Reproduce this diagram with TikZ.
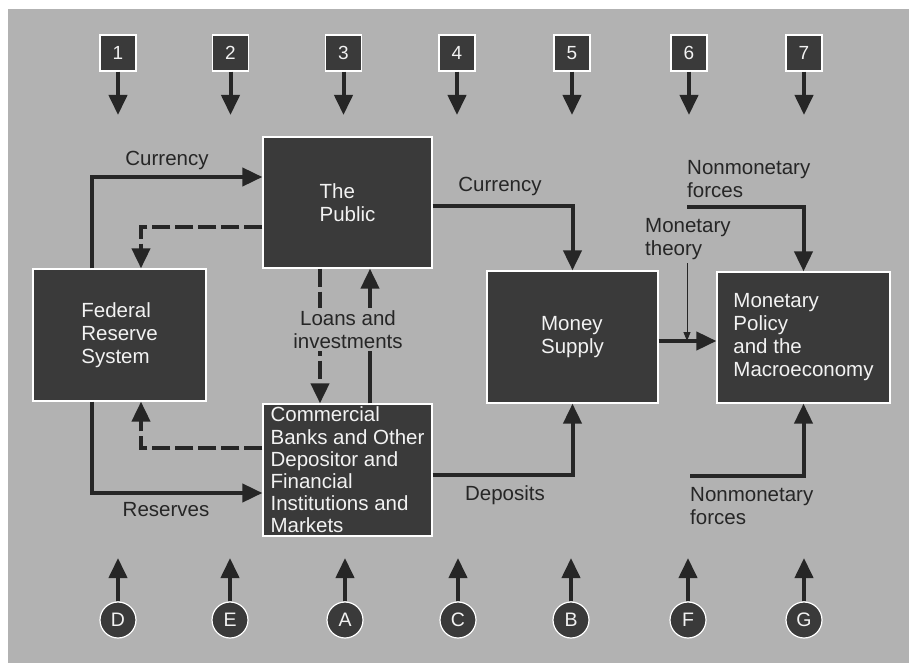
\documentclass[tikz,border=0pt]{standalone}
\usepackage{fontspec}
\setmainfont{Liberation Sans}
\usetikzlibrary{arrows.meta}
\definecolor{bg}{RGB}{178,178,178}
\definecolor{boxc}{RGB}{58,58,58}
\definecolor{ink}{RGB}{38,38,38}
\definecolor{wtxt}{RGB}{242,242,242}
\begin{document}
\begin{tikzpicture}[x=1pt,y=-1pt,
 font=\fontsize{20.5}{23}\selectfont,
 bigbox/.style={draw=white, line width=1.2pt, fill=boxc, text=wtxt, align=left, inner sep=0pt},
 numbox/.style={draw=white, line width=1.2pt, fill=boxc, text=wtxt, minimum width=36pt, minimum height=36pt, inner sep=0pt, font=\fontsize{19}{20}\selectfont},
 letcirc/.style={circle, draw=white, line width=1.2pt, fill=boxc, text=wtxt, minimum size=36pt, inner sep=0pt, font=\fontsize{19.5}{20}\selectfont},
 conn/.style={draw=ink, line width=4pt, -{Triangle[width=18pt,length=20pt]}},
 dconn/.style={conn, dash pattern=on 18pt off 5pt},
 thinconn/.style={draw=ink, line width=1pt, -{Triangle[width=7pt,length=9pt]}},
 lbl/.style={text=ink, align=left, inner sep=0pt},
 ]
\useasboundingbox (0,0) rectangle (909,663);
\fill[white] (0,0) rectangle (909,663);
\fill[bg] (8,9) rectangle (909,663);

% main boxes
\node[bigbox, minimum width=169pt, minimum height=131pt] (pub) at (347.5,202.5) {The\\Public};
\node[bigbox, minimum width=173pt, minimum height=132pt] (fed) at (119.5,335) {Federal\\Reserve\\System};
\node[bigbox, minimum width=169pt, minimum height=132pt, font=\fontsize{20.5}{22.2}\selectfont] (cb) at (347.5,470) {Commercial\\Banks and Other\\Depositor and\\Financial\\Institutions and\\Markets};
\node[bigbox, minimum width=171pt, minimum height=132pt] (ms) at (572.5,337) {Money\\Supply};
\node[bigbox, minimum width=173pt, minimum height=131pt] (mp) at (803.5,337.5) {Monetary\\Policy\\and the\\Macroeconomy};

% helper coordinates
\coordinate (c1) at (92,177);
\coordinate (c2) at (141,227);
\coordinate (c3) at (92,493);
\coordinate (c4) at (141,448);
\coordinate (c5) at (320,0);
\coordinate (c6) at (370,0);
\coordinate (c7) at (572,206);
\coordinate (c8) at (0,475);
\coordinate (c9) at (0,341);
\coordinate (mt) at (687,263);
\coordinate (nt) at (687,207);
\coordinate (nb) at (690,476);

% connectors
\draw[conn] (fed.north -| c1) |- (pub.west |- c1);
\draw[dconn] (pub.west |- c2) -| (fed.north -| c2);
\draw[conn] (fed.south -| c3) |- (cb.west |- c3);
\draw[dconn] (cb.west |- c4) -| (fed.south -| c4);
\draw[dconn] (pub.south -| c5) -- (cb.north -| c5);
\draw[conn] (cb.north -| c6) -- (pub.south -| c6);
\draw[conn] (pub.east |- c7) -| (ms.north);
\draw[conn] (cb.east |- c8) -| (ms.south);
\draw[conn] (ms.east |- c9) -- (mp.west |- c9);
\draw[thinconn] (mt) -- (mt |- c9);
\draw[conn] (nt) -| (mp.north);
\draw[conn] (nb) -| (mp.south);

% labels
\node[lbl] (lcur1) at (167,160) {Currency};
\node[lbl] (lcur2) at (500,186) {Currency};
\node[lbl, align=center, fill=bg, inner ysep=2.5pt, inner xsep=3pt] (lloans) at (348,329.5) {Loans and\\investments};
\node[lbl] (lres) at (166,510) {Reserves};
\node[lbl] (ldep) at (505,495) {Deposits};
\node[lbl, anchor=west] (lmt) at (645,239.5) {Monetary\\theory};
\node[lbl, anchor=west] (lnt) at (687,179.5) {Nonmonetary\\forces};
\node[lbl, anchor=west] (lnb) at (690,506.5) {Nonmonetary\\forces};

% top numbered boxes
\foreach \i/\x in {1/118,2/230.5,3/343.5,4/457,5/572,6/689,7/804}{
  \node[numbox] (n\i) at (\x,53) {\i};
  \coordinate (nd\i) at (\x,115);
  \draw[conn] (n\i) -- (nd\i);
}
% bottom lettered circles
\foreach \l/\x in {D/118,E/230,A/345,C/458,B/571,F/688,G/804}{
  \node[letcirc] (l\l) at (\x,620) {\l};
  \coordinate (lu\l) at (\x,558);
  \draw[conn] (l\l) -- (lu\l);
}
\end{tikzpicture}
\end{document}
